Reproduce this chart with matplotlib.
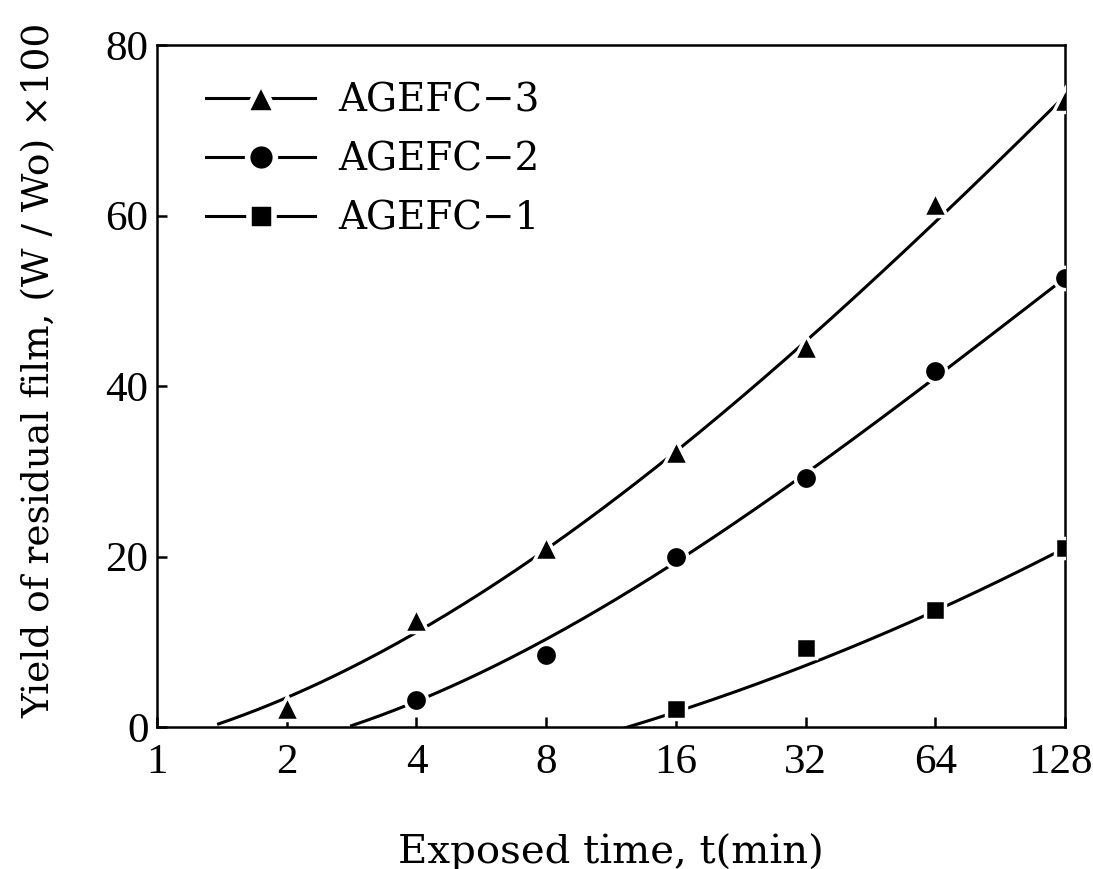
import numpy as np
import matplotlib.pyplot as plt
from matplotlib.lines import Line2D
from matplotlib.transforms import ScaledTranslation

plt.rcParams['font.family'] = ['DejaVu Serif']

# measured points, exposed time (min) vs yield
t3 = [2, 4, 8, 16, 32, 64, 128]
y3 = [2.2, 12.5, 21.0, 32.3, 44.6, 61.3, 73.5]
t2 = [4, 8, 16, 32, 64, 128]
y2 = [3.2, 8.4, 20.0, 29.2, 41.8, 52.7]
t1 = [16, 32, 64, 128]
y1 = [2.1, 9.3, 13.7, 21.0]

# values
ct3 = [1.39, 2, 4, 8, 16, 32, 64, 128]
cy3 = [0, 3.6, 12.0, 20.5, 31.5, 45.0, 60.5, 73.5]
ct2 = [2.83, 4, 8, 16, 32, 64, 128]
cy2 = [0, 3.2, 10.4, 19.3, 29.3, 41.5, 52.5]
ct1 = [12.2, 16, 32, 64, 128]
cy1 = [0, 1.6, 7.3, 13.6, 21.0]

labels = ['AGEFC\u22123', 'AGEFC\u22122', 'AGEFC\u22121']
markers = ['^', 'o', 's']
msizes = [17, 16, 14]

fig = plt.figure(figsize=(10.93, 8.69), dpi=100)
ax = fig.add_axes([0.1436, 0.1634, 0.8308, 0.7848])

pts = [(t3, y3), (t2, y2), (t1, y1)]
curves = [(ct3, cy3), (ct2, cy2), (ct1, cy1)]
degs = [3, 3, 2]
handles = []
for (t, y), (ct, cy), m, ms, d in zip(pts, curves, markers, msizes, degs):
    lx = np.log2(ct)
    c = np.polyfit(lx, cy, d)
    xx = np.linspace(lx[0], 7, 200)
    ax.plot(2 ** xx, np.polyval(c, xx), color='black', lw=2.2, zorder=2)
    ax.plot(t, y, ls='none', marker=m, ms=ms, color='black',
            mec='white', mew=2.5, zorder=3)
    handles.append(Line2D([], [], color='black', lw=2.2, marker=m, ms=ms + 4,
                          mec='white', mew=4))

ax.set_xscale('log', base=2)
ax.set_xlim(1, 128)
ax.set_ylim(0, 80)
ax.set_xticks([1, 2, 4, 8, 16, 32, 64, 128])
ax.set_xticklabels(['1', '2', '4', '8', '16', '32', '64', '128'])
ax.xaxis.set_minor_locator(plt.NullLocator())
ax.set_yticks([0, 20, 40, 60, 80])
ax.tick_params(direction='in', length=7, width=1.8, labelsize=31)
ax.tick_params(axis='x', pad=12)
ax.tick_params(axis='y', pad=6)
for lb in ax.get_xticklabels() + ax.get_yticklabels():
    lb.set_family('Liberation Serif')
last = ax.get_xticklabels()[-1]
last.set_transform(last.get_transform() + ScaledTranslation(-0.05, 0, fig.dpi_scale_trans))
for s in ax.spines.values():
    s.set_linewidth(1.8)

ax.set_xlabel('Exposed time, t(min)', fontsize=29)
ax.xaxis.set_label_coords(0.5, -0.155)
ax.set_ylabel('Yield of residual film, (W / Wo) \u00d7100', fontsize=27)
ax.yaxis.set_label_coords(-0.11, 0.523)

ax.legend(handles, labels, loc='upper left', frameon=False, fontsize=28,
          handlelength=2.8, handletextpad=0.6, labelspacing=0.56,
          borderaxespad=0.4, bbox_to_anchor=(0.02, 0.99))

fig.savefig('out.png', dpi=100)
